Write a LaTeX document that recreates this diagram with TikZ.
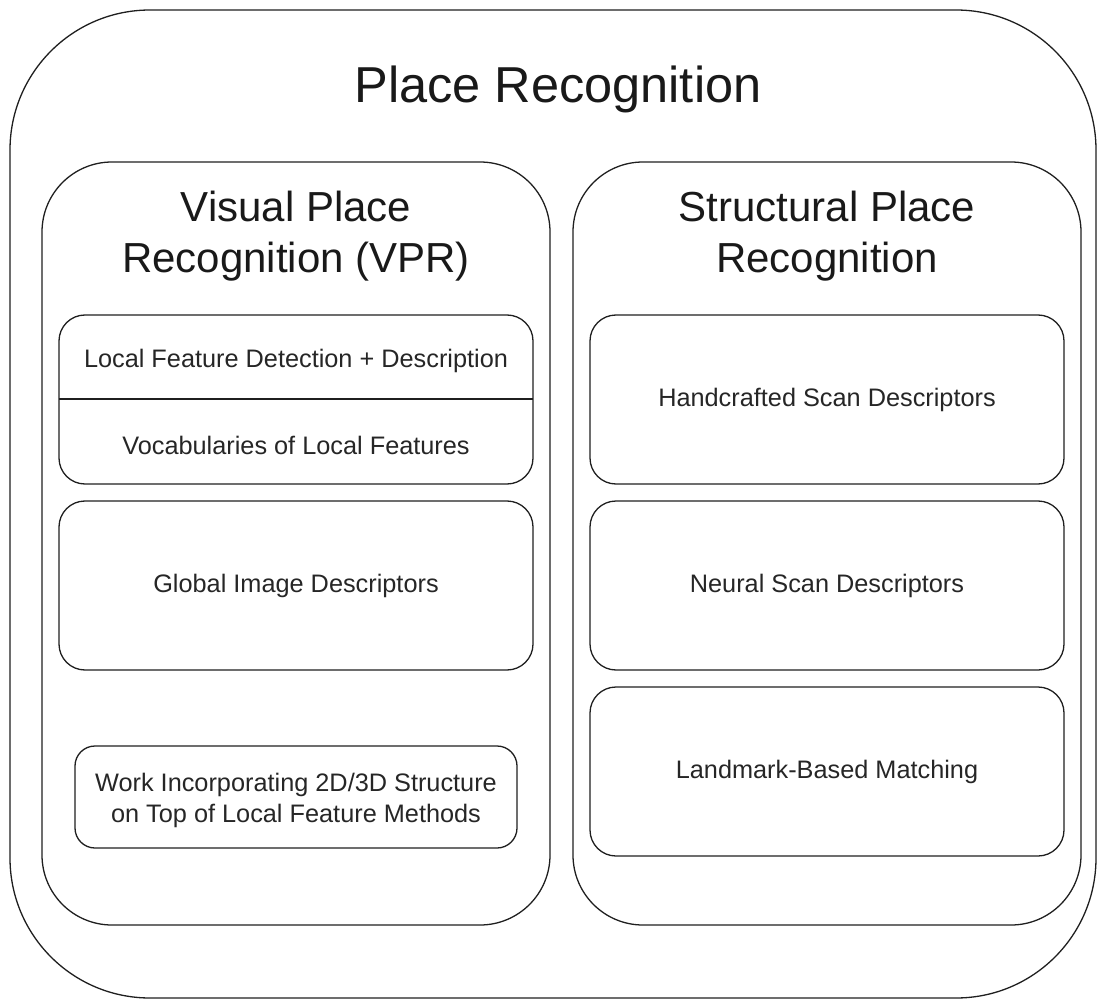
\documentclass[tikz,border=0pt]{standalone}
\usepackage{fontspec}
\setmainfont{Liberation Sans}
\begin{document}
\begin{tikzpicture}[x=1pt,y=-1pt,
  frame/.style={draw=black!88, line width=1.3pt, rounded corners=#1, inner sep=0pt},
  bigtitle/.style={font=\fontsize{50.5}{58}\selectfont, text=black!90},
  paneltitle/.style={font=\fontsize{42}{51}\selectfont, align=center, text=black!90},
  label/.style={font=\fontsize{25.3}{31}\selectfont, align=center, text=black!85},
]
\useasboundingbox (0,0) rectangle (1106,1008);
% outer
\node[frame=140pt, minimum width=1086pt, minimum height=988pt] (outer) at (553,504) {};
\node[bigtitle] (title) at (558,89) {Place Recognition};
% panels
\node[frame=70pt, minimum width=508pt, minimum height=763pt] (vpr) at (296,543.5) {};
\node[frame=70pt, minimum width=508pt, minimum height=763pt] (spr) at (827,543.5) {};
\node[paneltitle] (vprt) at (296,236) {Visual Place\\Recognition (VPR)};
\node[paneltitle] (sprt) at (827,236) {Structural Place\\Recognition};
% left boxes
\node[frame=26pt, minimum width=474pt, minimum height=169pt] (local) at (296,399.5) {};
\coordinate (divl) at (59,399);
\coordinate (divr) at (533,399);
\draw[draw=black!88, line width=1.3pt] (divl) -- (divr);
\node[label] (lfd) at (296,361) {Local Feature Detection + Description};
\node[label] (voc) at (296,445) {Vocabularies of Local Features};
\node[frame=26pt, minimum width=474pt, minimum height=169pt, label] (glob) at (296,585.5) {\raisebox{-3pt}{Global Image Descriptors}};
\node[frame=20pt, minimum width=442pt, minimum height=102pt] (work) at (296,797) {};
\node[label] (worktxt) at (296,800) {Work Incorporating 2D/3D Structure\\on Top of Local Feature Methods};
% right boxes
\node[frame=26pt, minimum width=474pt, minimum height=169pt, label] (hand) at (827,399.5) {\raisebox{-3pt}{Handcrafted Scan Descriptors}};
\node[frame=26pt, minimum width=474pt, minimum height=169pt, label] (neur) at (827,585.5) {\raisebox{-3pt}{Neural Scan Descriptors}};
\node[frame=26pt, minimum width=474pt, minimum height=169pt, label] (land) at (827,771.5) {\raisebox{-3pt}{Landmark-Based Matching}};
\end{tikzpicture}
\end{document}
